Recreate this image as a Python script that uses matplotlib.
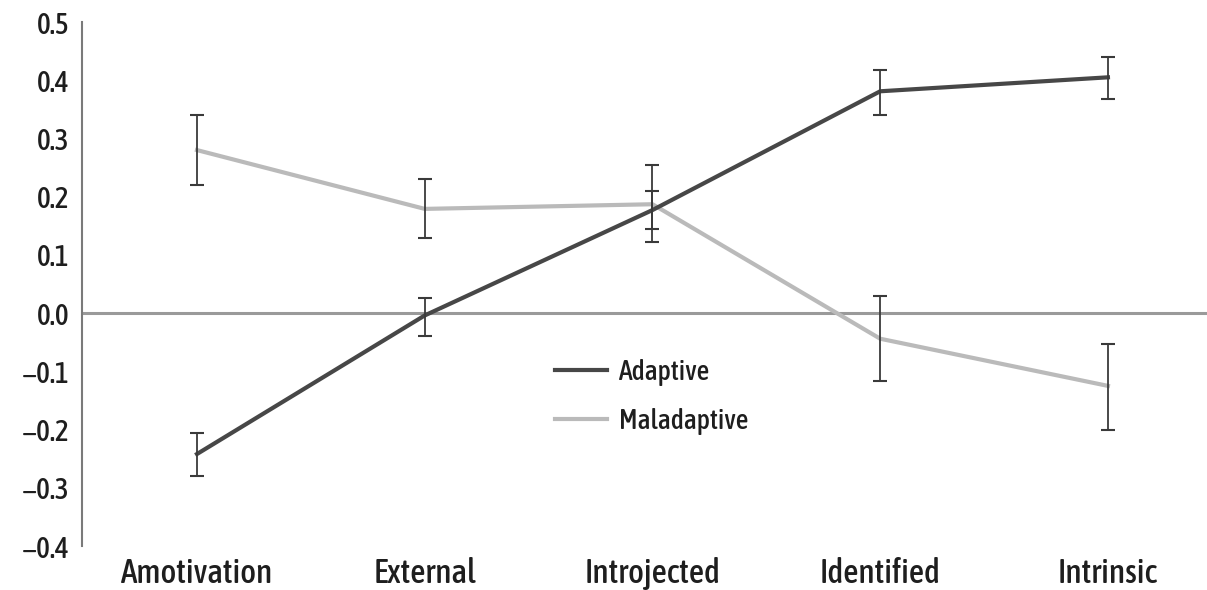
import matplotlib
matplotlib.use("Agg")
import matplotlib.pyplot as plt
from matplotlib import font_manager
from matplotlib.font_manager import FontProperties

categories = ["Amotivation", "External", "Introjected", "Identified", "Intrinsic"]
adaptive = [-0.242, -0.004, 0.177, 0.381, 0.405]
adaptive_lo = [-0.279, -0.040, 0.144, 0.341, 0.367]
adaptive_hi = [-0.206, 0.026, 0.210, 0.417, 0.440]
maladaptive = [0.280, 0.179, 0.187, -0.044, -0.125]
maladaptive_lo = [0.220, 0.129, 0.122, -0.117, -0.200]
maladaptive_hi = [0.340, 0.231, 0.254, 0.029, -0.053]
yticks = [0.5, 0.4, 0.3, 0.2, 0.1, 0.0, -0.1, -0.2, -0.3, -0.4]

# look for a condensed sans face; fall back to Liberation Sans
cands = []
for f in font_manager.fontManager.ttflist:
    nm = f.name.lower()
    fn = f.fname.lower()
    if ("narrow" in nm or "condensed" in nm or "condensed" in fn or "narrow" in fn
            or str(f.stretch) in ("condensed", "semi-condensed", "extra-condensed")):
        if "italic" in fn or "oblique" in fn or f.style != "normal":
            continue
        if "mono" in nm or ("serif" in nm and "sans" not in nm):
            continue
        w = f.weight if isinstance(f.weight, int) else 400
        cands.append((abs(w - 500), "semi" in fn, f.fname))
cands.sort()
if cands:
    fp_base = dict(fname=cands[0][2])
else:
    fp_base = dict(family=["Liberation Sans", "DejaVu Sans"])

def fp(size):
    return FontProperties(size=size, **fp_base)

fig = plt.figure(figsize=(12.07, 5.9), dpi=100)
ax = fig.add_axes([82/1207, 1-546/590, 1-82/1207, (546-22)/590])

x = list(range(len(categories)))
ax.axhline(0, color="#9a9a9a", lw=2.2, zorder=1)

ax.plot(x, maladaptive, color="#bababa", lw=3, zorder=2, label="Maladaptive")
ax.plot(x, adaptive, color="#474747", lw=3, zorder=3, label="Adaptive")

for vals, lo, hi in [(maladaptive, maladaptive_lo, maladaptive_hi), (adaptive, adaptive_lo, adaptive_hi)]:
    err = [[v - l for v, l in zip(vals, lo)], [h - v for v, h in zip(vals, hi)]]
    ax.errorbar(x, vals, yerr=err, fmt="none", ecolor="#3a3a3a", elinewidth=1.3,
                capsize=5, capthick=1.5, zorder=4)

ax.set_xlim(-0.505, 4.435)
ax.set_ylim(-0.4, 0.5)
ax.set_yticks(yticks)
ax.set_yticklabels([f"{v:.1f}".replace("-", "\u2212") for v in yticks], fontproperties=fp(21))
ax.set_xticks(x)
ax.set_xticklabels(categories, fontproperties=fp(24))
ax.tick_params(axis="both", length=0, colors="#1e1e1e")
ax.tick_params(axis="y", pad=9)
ax.tick_params(axis="x", pad=8)
for s in ["top", "right", "bottom"]:
    ax.spines[s].set_visible(False)
ax.spines["left"].set_color("#7a7a7a")
ax.spines["left"].set_linewidth(1.5)

handles, labels = ax.get_legend_handles_labels()
leg = ax.legend(handles[::-1], labels[::-1], loc="center", bbox_to_anchor=((652-82)/1125, (546-397)/524),
                frameon=False, prop=fp(20), handlelength=1.85, handletextpad=0.45, labelspacing=0.8)
for t in leg.get_texts():
    t.set_color("#1e1e1e")

fig.savefig("out.png", dpi=100, facecolor="white")
